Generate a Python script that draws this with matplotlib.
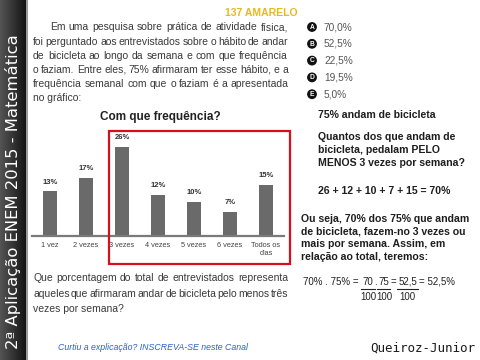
import numpy as np
import matplotlib
matplotlib.use("Agg")
import matplotlib.pyplot as plt
from matplotlib.patches import Rectangle, Circle

plt.rcParams['font.family'] = ['Liberation Sans', 'DejaVu Sans']

# dados do gráfico
categorias = ['1 vez', '2 vezes', '3 vezes', '4 vezes', '5 vezes', '6 vezes', 'Todos os\ndias']
percentuais = [13, 17, 26, 12, 10, 7, 15]
alternativas = ['A', 'B', 'C', 'D', 'E']
respostas = ['70,0%', '52,5%', '22,5%', '19,5%', '5,0%']

enunciado = [
    "Em uma pesquisa sobre prática de atividade física,",
    "foi perguntado aos entrevistados sobre o hábito de andar",
    "de bicicleta ao longo da semana e com que frequência",
    "o faziam. Entre eles, 75% afirmaram ter esse hábito, e a",
    "frequência semanal com que o faziam é a apresentada",
    "no gráfico:",
]
pergunta = [
    "Que porcentagem do total de entrevistados representa",
    "aqueles que afirmaram andar de bicicleta pelo menos três",
    "vezes por semana?",
]
resolucao = [
    "Quantos dos que andam de",
    "bicicleta, pedalam PELO",
    "MENOS 3 vezes por semana?",
]
conclusao = [
    "Ou seja, 70% dos 75% que andam",
    "de bicicleta, fazem-no 3 vezes ou",
    "mais por semana. Assim, em",
    "relação ao total, teremos:",
]

fig = plt.figure(figsize=(4.8, 3.6), dpi=100)
fig.patch.set_facecolor('white')

# eixo do gráfico de barras (coordenadas em pixels convertidas)
W, H = 480, 360
cx = fig.add_axes([32 / W, (H - 236) / H, 252 / W, 103 / H], zorder=1)
x = np.arange(len(categorias))
cx.bar(x, percentuais, width=0.4, color='#6a6a6a')
for xi, v in zip(x, percentuais):
    cx.annotate(f'{v}%', (xi, v), xytext=(0, 4), textcoords='offset points',
                ha='center', va='bottom', fontsize=5.5, fontweight='bold', color='#333333')
cx.set_xlim(-0.5, len(categorias) - 0.5)
cx.set_ylim(0, 30)
cx.set_xticks(x)
cx.set_xticklabels(categorias, fontsize=5.3, color='#444444', linespacing=1.2)
cx.tick_params(axis='x', length=0, pad=4)
cx.set_yticks([])
for s in ['top', 'left', 'right']:
    cx.spines[s].set_visible(False)
cx.spines['bottom'].set_color('#7a7a7a')
cx.spines['bottom'].set_linewidth(1.6)
cx.patch.set_visible(False)

# camada de texto em pixels
ax = fig.add_axes([0, 0, 1, 1], zorder=2)
ax.set_xlim(0, W)
ax.set_ylim(H, 0)
ax.axis('off')
ax.patch.set_visible(False)
r = fig.canvas.get_renderer()


def linha_justificada(texto, x0, x1, y, **kw):
    palavras = texto.split()
    ts = [ax.text(0, y, p, ha='left', va='center', **kw) for p in palavras]
    larg = [t.get_window_extent(r).width for t in ts]
    gap = (x1 - x0 - sum(larg)) / max(len(palavras) - 1, 1)
    pos = x0
    for t, w in zip(ts, larg):
        t.set_x(pos)
        pos += w + gap


# barra lateral
grad = np.linspace(0.33, 0.08, 50).reshape(1, -1)
ax.imshow(np.repeat(grad, 2, axis=0), cmap='gray', vmin=0, vmax=1, aspect='auto',
          extent=[0, 26, H, 0], zorder=0)
ax.add_patch(Rectangle((26, 0), 1.5, H, color='#9a9a9a', lw=0, zorder=1))
ax.text(13, 192, '2ª Aplicação ENEM 2015 - Matemática', rotation=90, ha='center', va='center',
        color='white', fontsize=11.8, family='DejaVu Sans')

ax.text(261, 13, '137 AMARELO', ha='center', va='center', color='#e8b820',
        fontsize=7.5, fontweight='bold')

txt = dict(fontsize=7.5, color='#3a3a3a')
ys = [27, 42, 56, 70, 84, 98]
for i, (linha, y) in enumerate(zip(enunciado, ys)):
    if i == len(enunciado) - 1:
        ax.text(33, y, linha, ha='left', va='center', **txt)
    else:
        linha_justificada(linha, 50 if i == 0 else 33, 288, y, **txt)

for i, (linha, y) in enumerate(zip(pergunta, [278, 294, 309])):
    if i == len(pergunta) - 1:
        ax.text(33, y, linha, ha='left', va='center', **txt)
    else:
        linha_justificada(linha, 33, 288, y, **txt)

ax.text(160, 117, 'Com que frequência?', ha='center', va='center', fontsize=8.5,
        fontweight='bold', color='#222222')
ax.add_patch(Rectangle((109, 131), 181, 133, fill=False, edgecolor='#d4111b', lw=1.6, zorder=3))

# alternativas
for i, (letra, resp) in enumerate(zip(alternativas, respostas)):
    y = 27 + i * 16.8
    ax.add_patch(Circle((312, y), 4.2, color='#111111', zorder=3))
    ax.text(312, y + 0.3, letra, ha='center', va='center', fontsize=4.8, fontweight='bold',
            color='white', zorder=4)
    ax.text(324, y, resp, ha='left', va='center', fontsize=7.3, color='#555555')

# resolução
bold = dict(fontsize=7.6, fontweight='bold', color='#1e1e1e', ha='left', va='center')
ax.text(318, 115, '75% andam de bicicleta', **bold)
for linha, y in zip(resolucao, [137, 150, 163]):
    ax.text(318, y, linha, **bold)
ax.text(318, 191, '26 + 12 + 10 + 7 + 15 = 70%', **bold)
for linha, y in zip(conclusao, [219, 232, 244, 257]):
    ax.text(301, y, linha, **bold)

# conta final
reg = dict(fontsize=7, color='#222222', va='center')
ax.text(303, 282, '70% . 75% =', ha='left', **reg)
ax.text(368, 282, '70', ha='center', **reg)
ax.text(375.5, 282, '.', ha='center', **reg)
ax.text(383.5, 282, '75', ha='center', **reg)
ax.text(393, 282, '=', ha='center', **reg)
ax.text(407.5, 282, '52,5', ha='center', **reg)
ax.text(419, 282, '= 52,5%', ha='left', **reg)
for x0, x1, xc in [(361, 375, 368.5), (377, 390, 384), (397, 418, 407.5)]:
    ax.plot([x0, x1], [288.5, 288.5], color='#222222', lw=0.8)
    ax.text(xc, 297, '100', ha='center', **reg)

# rodapé
ax.text(58, 348, 'Curtiu a explicação? INSCREVA-SE neste Canal', ha='left', va='center',
        fontsize=6.3, style='italic', color='#2a63c4')
ax.text(475, 348, 'Queiroz-Junior', ha='right', va='center', fontsize=9,
        family='DejaVu Sans Mono', color='#1a1a1a')

fig.savefig('out.png', dpi=100, facecolor='white')
